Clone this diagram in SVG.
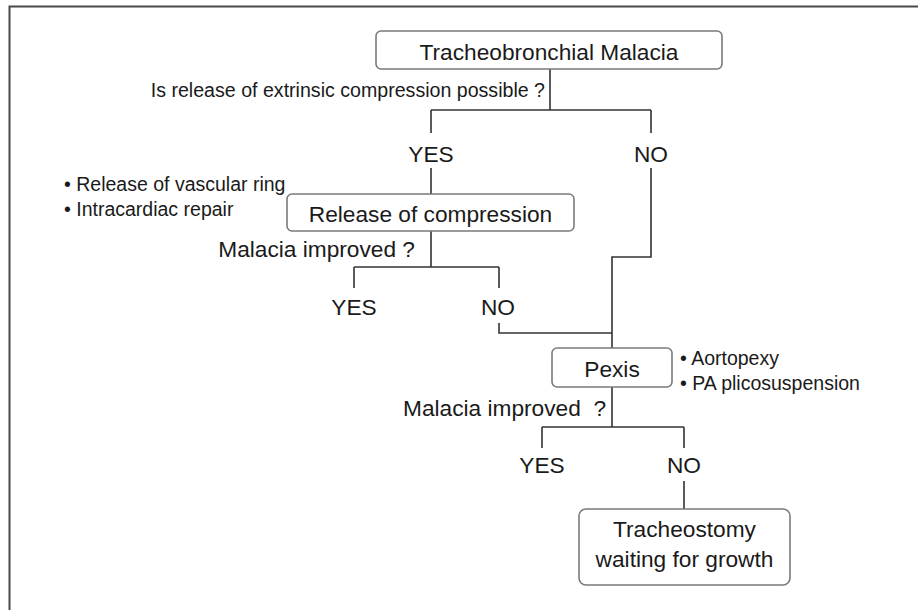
<svg xmlns="http://www.w3.org/2000/svg" width="918" height="610" viewBox="0 0 918 610">
<style>
text{font-family:"Liberation Sans",Arial,sans-serif;fill:#1a1a1a}
.big{font-size:22.7px}
.q{font-size:19.6px}
.small{font-size:19.5px}
.box{fill:#fff;stroke:#7a7a7a;stroke-width:1.6}
.conn{fill:none;stroke:#333;stroke-width:1.6}
.frame{fill:none;stroke:#4a4a4a;stroke-width:2}
</style>
<rect width="918" height="610" fill="#fff"/>
<path class="frame" d="M9.5,610 V6.5 H918"/>
<g id="connectors">
<path class="conn" d="M550,69 V110 M431,110 H651 M431,110 V133 M431,168 V194"/>
<path class="conn" d="M651,110 V133 M651,168 V257 H612 V348"/>
<path class="conn" d="M431,231 V267 M354,267 H499 M354,267 V288 M499,267 V288 M499,323 V333 H612"/>
<path class="conn" d="M612,387 V427 M542,427 H684 M542,427 V448 M684,427 V448 M684,481 V509"/>
</g>
<g id="n-tracheobronchial">
<rect class="box" x="376" y="31" width="346" height="38" rx="5"/>
<text class="big" x="549" y="60" text-anchor="middle" font-size="23">Tracheobronchial Malacia</text>
</g>
<g id="q1"><text class="q" x="545" y="97" text-anchor="end">Is release of extrinsic compression possible ?</text></g>
<g id="yes1"><text class="big" x="431" y="162" text-anchor="middle">YES</text></g>
<g id="no1"><text class="big" x="651" y="162" text-anchor="middle">NO</text></g>
<g id="notes1">
<text class="small" x="64" y="191">• Release of vascular ring</text>
<text class="small" x="64" y="216">• Intracardiac repair</text>
</g>
<g id="n-release">
<rect class="box" x="287" y="194" width="287" height="37" rx="5"/>
<text class="big" x="430.5" y="222" text-anchor="middle">Release of compression</text>
</g>
<g id="q2"><text class="big" x="415" y="257" text-anchor="end">Malacia improved ?</text></g>
<g id="yes2"><text class="big" x="354" y="315" text-anchor="middle">YES</text></g>
<g id="no2"><text class="big" x="498" y="315" text-anchor="middle">NO</text></g>
<g id="n-pexis">
<rect class="box" x="552" y="348" width="120" height="39" rx="5"/>
<text class="big" x="612" y="377" text-anchor="middle">Pexis</text>
</g>
<g id="notes2">
<text class="small" x="680" y="365">• Aortopexy</text>
<text class="small" x="680" y="390">• PA plicosuspension</text>
</g>
<g id="q3"><text class="big" x="606" y="416" text-anchor="end" xml:space="preserve">Malacia improved  ?</text></g>
<g id="yes3"><text class="big" x="542" y="473" text-anchor="middle">YES</text></g>
<g id="no3"><text class="big" x="684" y="473" text-anchor="middle">NO</text></g>
<g id="n-tracheostomy">
<rect class="box" x="579" y="509" width="211" height="76" rx="7"/>
<text class="big" x="684.5" y="537" text-anchor="middle">Tracheostomy</text>
<text class="big" x="684.5" y="567" text-anchor="middle">waiting for growth</text>
</g>
</svg>
